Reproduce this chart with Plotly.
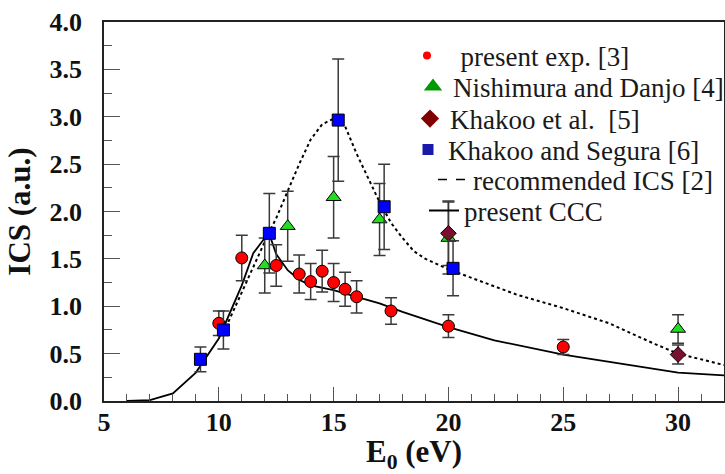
import plotly.graph_objects as go

# present experiment [3]
exp_x = [10, 11, 12.5, 13.5, 14, 14.5, 15, 15.5, 16, 17.5, 20, 25]
exp_y = [0.82, 1.51, 1.43, 1.34, 1.26, 1.37, 1.25, 1.18, 1.10, 0.95, 0.79, 0.57]
exp_err = [0.13, 0.24, 0.22, 0.20, 0.19, 0.22, 0.20, 0.18, 0.17, 0.14, 0.12, 0.08]

# Nishimura and Danjo [4]
nd_x = [12, 13, 15, 17, 20, 30]
nd_y = [1.43, 1.845, 2.15, 1.915, 1.72, 0.76]
nd_err = [0.29, 0.37, 0.43, 0.38, 0.38, 0.15]

# Khakoo et al. [5]
kh_x = [20, 30]
kh_y = [1.77, 0.49]
kh_err = [0.34, 0.10]

# Khakoo and Segura [6]
ks_x = [9.2, 10.2, 12.2, 15.2, 17.2, 20.2]
ks_y = [0.44, 0.75, 1.77, 2.965, 2.05, 1.40]
ks_err = [0.13, 0.20, 0.42, 0.645, 0.45, 0.29]

# recommended ICS [2]
rec_x = [10.2, 10.5, 11, 11.5, 12, 12.5, 13, 13.5, 14, 14.5, 15, 15.5, 16, 16.5, 17,
         17.5, 18, 18.5, 19, 20, 21, 22, 23, 24, 25, 26, 27, 28, 29, 30, 31, 32]
rec_y = [0.72, 0.88, 1.15, 1.41, 1.68, 1.93, 2.22, 2.50, 2.76, 2.92, 2.98, 2.90, 2.61, 2.35, 2.10,
         1.88, 1.72, 1.58, 1.50, 1.39, 1.30, 1.21, 1.12, 1.05, 0.98, 0.90, 0.82, 0.71, 0.60, 0.50, 0.44, 0.38]

# present CCC
ccc_x = [6, 7, 8, 9, 10, 10.5, 11, 11.5, 12, 12.2, 12.5, 13, 13.5, 14, 15, 16, 17, 18, 20, 22, 25, 30, 32]
ccc_y = [0.0, 0.01, 0.08, 0.30, 0.66, 0.95, 1.22, 1.56, 1.72, 1.76, 1.55, 1.38, 1.28, 1.22, 1.17,
         1.10, 1.03, 0.94, 0.78, 0.64, 0.49, 0.30, 0.27]

SERIF = "Liberation Serif, Tinos, Times New Roman, serif"
ERRC = "#3a3a3a"

W, H = 725, 474
ML, MR, MT, MB = 104, 1, 22, 73
PW, PH = W - ML - MR, H - MT - MB

fig = go.Figure()

fig.add_trace(go.Scatter(x=rec_x, y=rec_y, mode="lines", line=dict(color="black", width=2, dash="dot"),
                         showlegend=False, hoverinfo="skip"))
fig.add_trace(go.Scatter(x=ccc_x, y=ccc_y, mode="lines", line=dict(color="black", width=1.8),
                         showlegend=False, hoverinfo="skip"))


def pts(x, y, e, sym, col, size):
    return go.Scatter(x=x, y=y, mode="markers",
                      marker=dict(symbol=sym, color=col, size=size, line=dict(color="black", width=1)),
                      error_y=dict(type="data", array=e, visible=True, color=ERRC, thickness=1.5, width=6),
                      showlegend=False)


fig.add_trace(pts(nd_x, nd_y, nd_err, "triangle-up", "#22dd22", 13))
fig.add_trace(pts(kh_x, kh_y, kh_err, "diamond", "#7a1030", 12))
fig.add_trace(pts(exp_x, exp_y, exp_err, "circle", "#ff0000", 12))
fig.add_trace(pts(ks_x, ks_y, ks_err, "square", "#0000ff", 12))

# legend entries: (name, legend id, kind, style, left px, center-y px)
leg_entries = [
    ("  present exp. [3]", "legend", "markers", dict(symbol="circle", color="#ff0000", size=8), 407, 56),
    ("Nishimura and Danjo [4]", "legend2", "markers", dict(symbol="triangle-up", color="#009900", size=16), 413, 87),
    ("Khakoo et al.  [5]", "legend3", "markers", dict(symbol="diamond", color="#800000", size=14), 410, 119),
    ("Khakoo and Segura [6]", "legend4", "markers", dict(symbol="square", color="#1a1aaa", size=11), 408, 150),
    ("recommended ICS [2]", "legend5", "lines", dict(color="black", width=1.5, dash="dash"), 433, 180),
    ("present CCC", "legend6", "lines", dict(color="black", width=2), 424, 211),
]

legend_layout = {}
for name, lid, kind, style, lx, cy in leg_entries:
    tr = go.Scatter(x=[None], y=[None], mode=kind, name=name, legend=lid)
    if kind == "markers":
        tr.marker = style
    else:
        tr.line = style
    fig.add_trace(tr)
    legend_layout[lid] = dict(x=(lx - ML) / PW, y=1 - (cy - MT) / PH, xanchor="left", yanchor="middle",
                              bgcolor="rgba(0,0,0,0)",
                              font=dict(family=SERIF, size=27, color="#1a1a1a"), itemwidth=30)

fig.update_layout(
    width=W, height=H,
    margin=dict(l=ML, r=MR, t=MT, b=MB, autoexpand=False),
    paper_bgcolor="white", plot_bgcolor="white",
    font=dict(family=SERIF, color="#111111"),
    xaxis=dict(range=[5, 32], tickvals=[5, 10, 15, 20, 25, 30], ticks="inside", ticklen=14,
               tickcolor="#555555", tickwidth=1.2, automargin=False,
               minor=dict(dtick=1, ticks="inside", ticklen=7, tickcolor="#555555", tickwidth=1.2),
               showline=True, linecolor="#222222", linewidth=1.5, mirror=True, showgrid=False, zeroline=False,
               tickfont=dict(family=SERIF, size=26, color="#111111", weight="bold"),
               ticklabelstandoff=-3,
               title=dict(text="E<sub>0</sub> (eV)", font=dict(family=SERIF, size=31, color="#111111", weight="bold"),
                          standoff=9)),
    yaxis=dict(range=[0, 4], dtick=0.5, tickformat=".1f", ticks="inside", ticklen=16,
               tickcolor="#555555", tickwidth=1.2, automargin=False,
               minor=dict(dtick=0.25, ticks="inside", ticklen=8, tickcolor="#555555", tickwidth=1.2),
               showline=True, linecolor="#222222", linewidth=1.5, mirror=True, showgrid=False, zeroline=False,
               tickfont=dict(family=SERIF, size=26, color="#111111", weight="bold"),
               ticklabelstandoff=15,
               title=dict(text="ICS (a.u.)", font=dict(family=SERIF, size=31, color="#111111", weight="bold"),
                          standoff=10)),
    **legend_layout,
)

fig.write_html("out.html", config={"displayModeBar": False},
               post_script="document.body.style.margin='0';document.body.style.overflow='hidden';")
